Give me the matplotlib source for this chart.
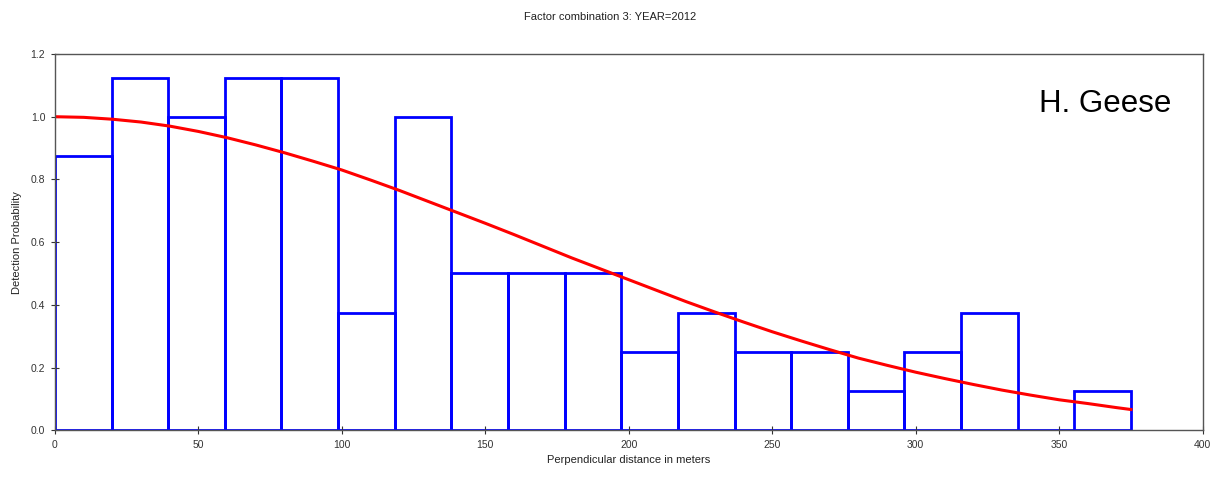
import numpy as np
import matplotlib
matplotlib.use("Agg")
import matplotlib.pyplot as plt

plt.rcParams["font.family"] = ["Liberation Sans", "DejaVu Sans"]

# histogram: 19 bins spanning 0..375 m
max_dist = 375
n_bins = 19
bin_heights = [0.875, 1.125, 1.0, 1.125, 1.125, 0.375, 1.0, 0.5, 0.5, 0.5,
               0.25, 0.375, 0.25, 0.25, 0.125, 0.25, 0.375, 0.0, 0.125]

# fitted detection function
curve_x = [0, 10, 20, 30, 40, 50, 60, 70, 80, 90, 100, 110, 120, 130, 140,
           150, 160, 170, 180, 190, 200, 210, 220, 230, 240, 250, 260, 270,
           280, 290, 300, 310, 320, 330, 340, 350, 360, 370, 375]
curve_y = [1.0, 0.998, 0.992, 0.983, 0.97, 0.953, 0.933, 0.91, 0.885, 0.858,
           0.83, 0.798, 0.765, 0.73, 0.695, 0.66, 0.624, 0.587, 0.55, 0.515,
           0.48, 0.445, 0.41, 0.377, 0.345, 0.314, 0.285, 0.257, 0.23, 0.207,
           0.185, 0.165, 0.146, 0.128, 0.112, 0.097, 0.085, 0.072, 0.066]

edges = np.linspace(0, max_dist, n_bins + 1)
widths = np.diff(edges)

fig = plt.figure(figsize=(12.21, 4.78), dpi=100)
ax = fig.add_axes([0.045, 0.100, 0.940, 0.787])

ax.bar(edges[:-1], bin_heights, width=widths, align="edge",
       fill=False, edgecolor="#0000ff", linewidth=2.0)
ax.plot(curve_x, curve_y, color="#ff0000", linewidth=2.2)

ax.set_xlim(0, 400)
ax.set_ylim(0, 1.2)
ax.set_xticks(np.arange(0, 401, 50))
ax.set_yticks(np.arange(0, 1.21, 0.2))
ax.set_yticklabels([f"{v:.1f}" for v in np.arange(0, 1.21, 0.2)])
ax.tick_params(labelsize=7.5, direction="inout", length=6, width=0.8,
               colors="#333333", pad=4)
for s in ax.spines.values():
    s.set_linewidth(1.0)
    s.set_color("#555555")

ax.set_xlabel("Perpendicular distance in meters", fontsize=8, color="#222222",
              labelpad=4)
ax.set_ylabel("Detection Probability", fontsize=8, color="#222222", labelpad=6)
fig.text(0.5, 0.965, "Factor combination 3: YEAR=2012", ha="center",
         va="center", fontsize=8, color="#222222")
ax.text(0.973, 0.867, "H. Geese", transform=ax.transAxes, ha="right",
        va="center", fontsize=22.5, color="black")

fig.savefig("out.png", dpi=100)
